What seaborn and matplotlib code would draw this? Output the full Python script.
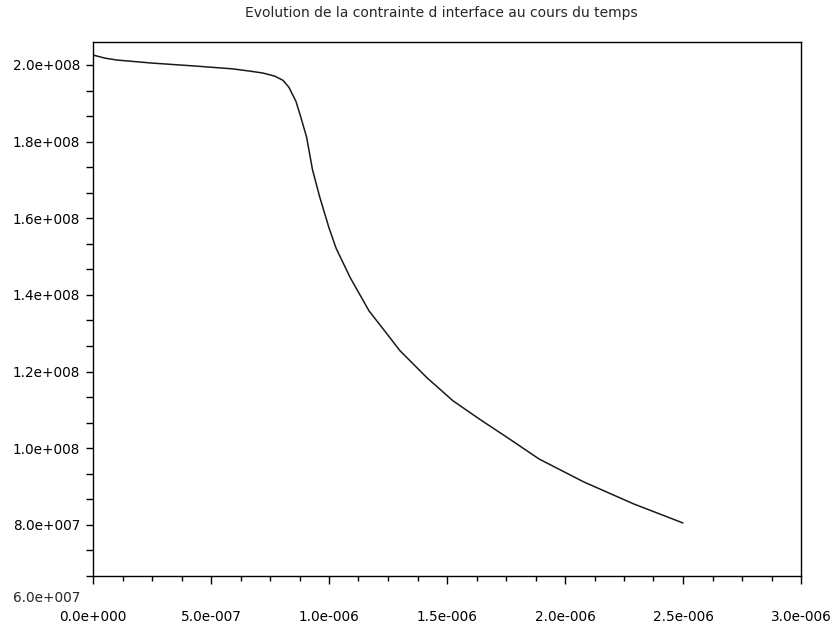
import matplotlib
matplotlib.use("Agg")
import matplotlib.pyplot as plt
import matplotlib.ticker as mticker
import numpy as np
import pandas as pd
import seaborn as sns

# time (s) and interface stress (Pa)
temps = [0.0, 0.5e-7, 1.0e-7, 2.5e-7, 4.4e-7, 5.9e-7, 6.65e-7, 7.2e-7, 7.7e-7,
         8.05e-7, 8.3e-7, 8.6e-7, 8.8e-7, 9.05e-7, 9.3e-7, 9.6e-7, 1.0e-6,
         1.03e-6, 1.09e-6, 1.17e-6, 1.245e-6, 1.30e-6, 1.415e-6, 1.525e-6,
         1.64e-6, 1.77e-6, 1.89e-6, 2.08e-6, 2.29e-6, 2.5e-6]
contrainte = [2.026e8, 2.018e8, 2.013e8, 2.005e8, 1.997e8, 1.990e8, 1.984e8,
              1.979e8, 1.971e8, 1.960e8, 1.942e8, 1.905e8, 1.865e8, 1.812e8,
              1.727e8, 1.657e8, 1.575e8, 1.522e8, 1.445e8, 1.358e8, 1.299e8,
              1.255e8, 1.184e8, 1.124e8, 1.075e8, 1.022e8, 0.972e8, 0.912e8,
              0.855e8, 0.805e8]

x_ticks = [0.0, 5e-7, 1e-6, 1.5e-6, 2e-6, 2.5e-6, 3e-6]
y_ticks = [8e7, 1e8, 1.2e8, 1.4e8, 1.6e8, 1.8e8, 2e8]
titre = "Evolution de la contrainte d interface au cours du temps"


def scilab_fmt(v, pos=None):
    # Scilab style: one decimal, three-digit exponent
    if v == 0:
        return "0.0e+000"
    exp = int(np.floor(np.log10(abs(v))))
    mant = v / 10 ** exp
    if round(mant, 1) >= 10:
        mant /= 10
        exp += 1
    sign = "+" if exp >= 0 else "-"
    return f"{mant:.1f}e{sign}{abs(exp):03d}"


sns.set_style("ticks")
plt.rcParams["font.family"] = ["DejaVu Sans"]

df = pd.DataFrame({"t": temps, "sigma": contrainte})

fig = plt.figure(figsize=(8.33, 6.27), dpi=100)
ax = fig.add_axes([93 / 833, 1 - 576 / 627, (801 - 93) / 833, (576 - 42) / 627])
sns.lineplot(data=df, x="t", y="sigma", ax=ax, color="#1a1a1a", linewidth=1.1,
             sort=False)

ax.set_xlim(0, 3e-6)
ax.set_ylim(8e7 - 2 * 2e7 / 3, 2.06e8)
ax.set_xticks(x_ticks)
ax.set_yticks(y_ticks)
ax.xaxis.set_minor_locator(mticker.MultipleLocator(1.25e-7))
ax.yaxis.set_minor_locator(mticker.MultipleLocator(2e7 / 3))
ax.xaxis.set_major_formatter(mticker.FuncFormatter(scilab_fmt))
ax.yaxis.set_major_formatter(mticker.FuncFormatter(scilab_fmt))
ax.set_xlabel("")
ax.set_ylabel("")

for sp in ax.spines.values():
    sp.set_color("black")
    sp.set_linewidth(1.0)

ax.tick_params(axis="x", which="major", length=5.5, width=1.0, pad=19,
               labelsize=9.8, colors="black")
ax.tick_params(axis="x", which="minor", length=3.6, width=1.0, colors="black")
ax.tick_params(axis="y", which="major", length=4.8, width=1.0, pad=4.5,
               labelsize=9.8, colors="black")
ax.tick_params(axis="y", which="minor", length=4.8, width=1.0, colors="black")

# Scilab prints the lowest graduation below the axis end
ax.annotate(scilab_fmt(6e7), xy=(0, 6e7), xycoords=("axes fraction", "data"),
            xytext=(-9.4, 2.5), textcoords="offset points", ha="right",
            va="center", fontsize=9.8, annotation_clip=False)

fig.text(441 / 833, 1 - 13 / 627, titre, ha="center", va="center", fontsize=10)

fig.savefig("out.png", dpi=100, facecolor="white")
